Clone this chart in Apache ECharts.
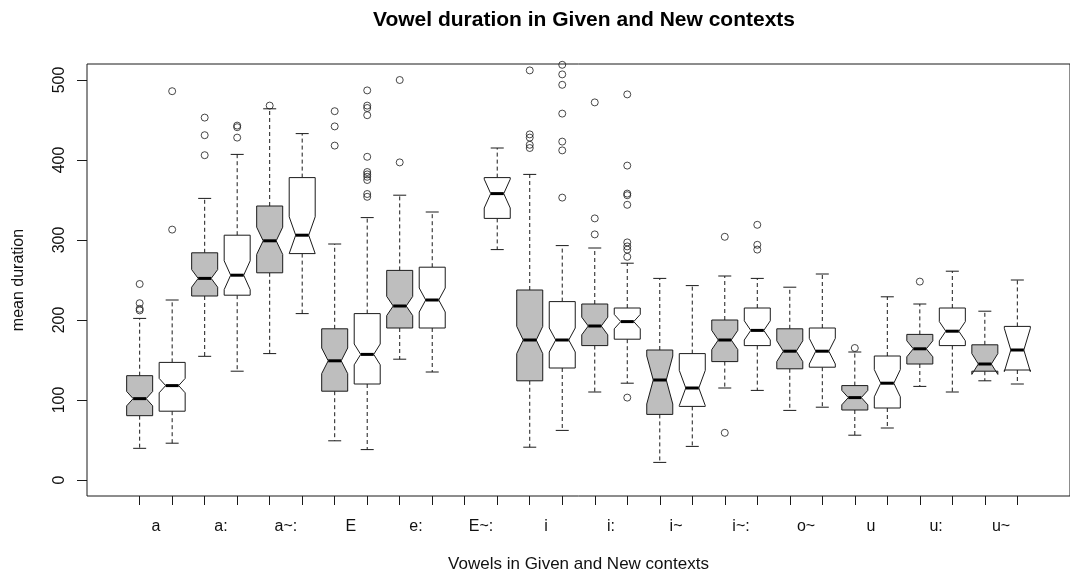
<!DOCTYPE html>
<html>
<head>
<meta charset="utf-8">
<script src="https://cdn.jsdelivr.net/npm/echarts@6/dist/echarts.min.js"></script>
<style>
html,body{margin:0;padding:0;background:#fff;}
#chart{width:1070px;height:583px;}
</style>
</head>
<body>
<div id="chart"></div>
<script>
// ---- data ----
const categories = ['a','a:','a~:','E','e:','E~:','i','i:','i~','i~:','o~','u','u:','u~'];
// [lower whisker, Q1, median, Q3, upper whisker]
const givenStats = [
  [39.6, 80.4, 101.7, 130.4, 202],
  [154.6, 230, 252, 284, 352],
  [158, 259, 299, 342.5, 464],
  [49, 111, 149, 189, 295],
  [151, 190, 217.5, 262, 356],
  null,
  [41, 124, 175, 237.5, 382],
  [110, 168, 192.5, 220, 290],
  [22, 82, 125, 162.5, 252],
  [115, 148, 175, 200, 255],
  [87, 139, 161, 189, 241],
  [56, 87.5, 103, 118, 160],
  [117, 145, 164, 182, 220],
  [124, 136, 145, 169, 211]
];
const newStats = [
  [46, 86, 118, 147, 225],
  [136, 231, 256, 306, 407],
  [208, 283, 306, 378, 433],
  [38, 120, 157, 208, 328],
  [135, 190, 225, 266, 335],
  [288, 327, 358, 378, 415],
  [62, 140, 175, 223, 293],
  [121, 176, 198, 215, 271],
  [42, 92, 115, 158, 243],
  [112, 168, 187, 215, 252],
  [91, 141, 161, 190, 257.5],
  [65, 90, 121, 155, 229],
  [110, 168, 186, 215, 261],
  [120, 137.5, 162.5, 192, 250]
];
// notch half-heights (median +/- value)
const givenNotch = [9, 11, 17, 16, 12, null, 17, 11, 30, 12, 13, 9, 10, 13];
const newNotch   = [9, 18, 23, 13, 15, 18, 15, 9, 22, 12, 16, 17, 12, 27];
const givenOutliers = [
  [245, 221, 214, 212],
  [406, 431, 453],
  [468],
  [418, 442, 461],
  [397, 500],
  [],
  [512, 432, 428, 419, 415],
  [307, 327, 472],
  [],
  [304, 59],
  [],
  [165],
  [248],
  []
];
const newOutliers = [
  [313, 486],
  [428, 441, 443],
  [],
  [487, 468, 465, 456, 404, 385, 382, 379, 375, 357.5, 354],
  [],
  [],
  [519, 507, 494, 458, 423, 412, 353],
  [482, 393, 358, 356, 344, 297, 292, 288, 279, 103],
  [],
  [319, 294, 288],
  [],
  [],
  [],
  []
];
const yTicks = [0, 100, 200, 300, 400, 500];

// ---- build ----
const givenData = [], newData = [];
const outGiven = [], outNew = [];
categories.forEach((c, k) => {
  const pg = 2 * k + 1, pn = 2 * k + 2;
  if (givenStats[k]) givenData.push([pg].concat(givenStats[k], [givenNotch[k]]));
  if (newStats[k]) newData.push([pn].concat(newStats[k], [newNotch[k]]));
  givenOutliers[k].forEach(v => outGiven.push([pg, v]));
  newOutliers[k].forEach(v => outNew.push([pn, v]));
});
const xTickPos = [];
for (let i = 1; i <= categories.length * 2; i++) xTickPos.push(i);
const xLabelPos = categories.map((c, k) => 2 * k + 1.5);

const LINE = '#1a1a1a';
function makeRender(fill) {
  return function (params, api) {
    const x = api.value(0);
    const lw = api.value(1), q1 = api.value(2), med = api.value(3), q3 = api.value(4), uw = api.value(5), nh = api.value(6);
    const wid = 0.4, frac = 0.5;
    const cLo = med - nh, cHi = med + nh;
    const P = (dx, y) => api.coord([x + dx, y]);
    const poly = [
      P(-wid, q1), P(wid, q1), P(wid, cLo), P(wid * frac, med), P(wid, cHi),
      P(wid, q3), P(-wid, q3), P(-wid, cHi), P(-wid * frac, med), P(-wid, cLo)
    ];
    const dash = { stroke: LINE, lineWidth: 1, lineDash: [4, 3] };
    const solid = { stroke: LINE, lineWidth: 1 };
    const line = (a, b, st) => ({ type: 'line', shape: { x1: a[0], y1: a[1], x2: b[0], y2: b[1] }, style: st });
    return {
      type: 'group',
      children: [
        line(P(0, q3), P(0, uw), dash),
        line(P(0, q1), P(0, lw), dash),
        line(P(-wid / 2, uw), P(wid / 2, uw), solid),
        line(P(-wid / 2, lw), P(wid / 2, lw), solid),
        { type: 'polygon', shape: { points: poly }, style: { fill: fill, stroke: LINE, lineWidth: 1 } },
        line(P(-wid * frac, med), P(wid * frac, med), { stroke: '#000', lineWidth: 3 })
      ]
    };
  };
}

const chart = echarts.init(document.getElementById('chart'), null, { renderer: 'canvas' });
const FONT = 'Liberation Sans, Arial, sans-serif';
chart.setOption({
  animation: false,
  backgroundColor: '#fff',
  graphic: [{
    type: 'text', x: 584, y: 20,
    style: { text: 'Vowel duration in Given and New contexts', fill: '#000', font: 'bold 21px Liberation Sans, Arial, sans-serif', textAlign: 'center', textVerticalAlign: 'middle' }
  }],
  grid: { left: 87, top: 64, width: 994, height: 432, show: true, borderColor: LINE, borderWidth: 1, backgroundColor: 'transparent' },
  xAxis: {
    type: 'value', min: -0.62, max: 29.62,
    axisLine: { show: false, onZero: false },
    splitLine: { show: false },
    axisTick: { show: true, customValues: xTickPos, length: 9, lineStyle: { color: LINE } },
    axisLabel: {
      customValues: xLabelPos, margin: 23, color: '#111', fontSize: 16, fontFamily: FONT,
      formatter: v => categories[Math.round((v - 1.5) / 2)]
    },
    name: 'Vowels in Given and New contexts', nameLocation: 'middle', nameGap: 60,
    nameTextStyle: { color: '#111', fontSize: 17, fontFamily: FONT }
  },
  yAxis: {
    type: 'value', min: -20, max: 520,
    axisLine: { show: false, onZero: false },
    splitLine: { show: false },
    axisTick: { show: true, customValues: yTicks, length: 10, lineStyle: { color: LINE } },
    axisLabel: { customValues: yTicks, rotate: 90, margin: 19, color: '#111', fontSize: 16, fontFamily: FONT },
    name: 'mean duration', nameLocation: 'middle', nameGap: 60, nameRotate: 90,
    nameTextStyle: { color: '#111', fontSize: 16, fontFamily: FONT }
  },
  series: [
    { type: 'custom', name: 'Given', renderItem: makeRender('#bebebe'), data: givenData, clip: false, encode: { x: 0, y: [1, 2, 3, 4, 5] }, z: 2 },
    { type: 'custom', name: 'New', renderItem: makeRender('#ffffff'), data: newData, clip: false, encode: { x: 0, y: [1, 2, 3, 4, 5] }, z: 2 },
    { type: 'scatter', data: outGiven, symbol: 'circle', symbolSize: 7, itemStyle: { color: 'transparent', borderColor: LINE, borderWidth: 1 }, z: 3 },
    { type: 'scatter', data: outNew, symbol: 'circle', symbolSize: 7, itemStyle: { color: 'transparent', borderColor: LINE, borderWidth: 1 }, z: 3 }
  ]
});
</script>
</body>
</html>
